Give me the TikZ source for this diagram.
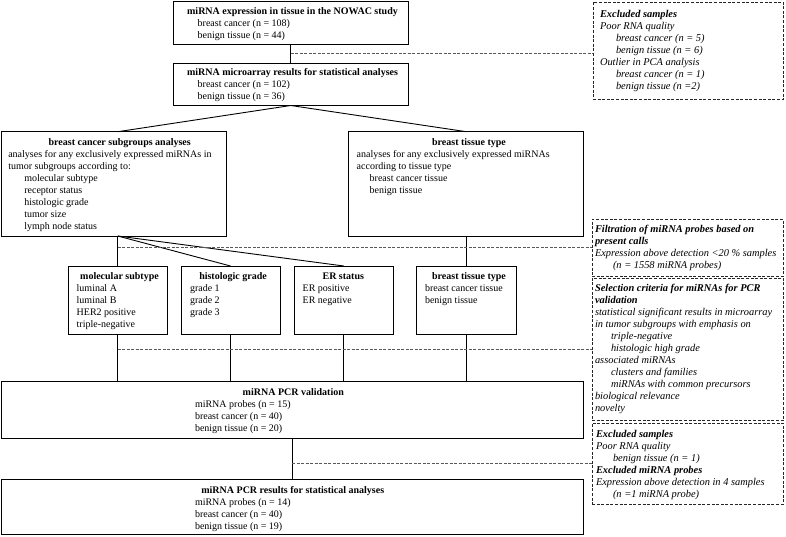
\documentclass[tikz,border=0pt]{standalone}
\usepackage{fontspec}
\setmainfont{Liberation Serif}
\usetikzlibrary{calc}
\newcommand{\lns}[1]{\begin{tabular}[t]{@{}l@{}}#1\end{tabular}}
\newcommand{\ii}{\hspace*{16pt}}
\newcommand{\bi}[1]{\textbf{\textit{#1}}}
\begin{document}
\begin{tikzpicture}[x=1pt,y=-1pt,
  box/.style={draw=black, line width=0.9pt, inner sep=0pt, outer sep=0pt, anchor=north west},
  dbox/.style={draw=black!85, line width=0.8pt, dash pattern=on 3pt off 1.6pt, inner sep=0pt, outer sep=0pt, anchor=north west},
  conn/.style={draw=black, line width=0.9pt},
  dconn/.style={draw=black!65, line width=0.7pt, dash pattern=on 3pt off 1.5pt},
  txt/.style={inner sep=0pt, outer sep=0pt, font=\fontsize{10}{12}\selectfont, anchor=base west},
  ttl/.style={inner sep=0pt, outer sep=0pt, font=\fontsize{10}{12}\selectfont\bfseries, anchor=base},
  itx/.style={inner sep=0pt, outer sep=0pt, font=\fontsize{10.4}{12}\selectfont\itshape, anchor=base west},
]
\useasboundingbox (0,0) rectangle (786,536);

% boxes
\node[box, minimum width=235.5pt, minimum height=42.8pt] (b1) at (173,1.5) {};
\node[box, minimum width=235.5pt, minimum height=42.5pt] (b2) at (173,63) {};
\node[box, minimum width=224.3pt, minimum height=104.3pt] (lb) at (1.7,131.7) {};
\node[box, minimum width=235.3pt, minimum height=104.3pt] (rb) at (348,131.7) {};
\node[box, minimum width=99pt, minimum height=68pt] (ms) at (68.3,266) {};
\node[box, minimum width=99pt, minimum height=68pt] (hg) at (181,266) {};
\node[box, minimum width=99pt, minimum height=68pt] (er) at (294.3,266) {};
\node[box, minimum width=99.3pt, minimum height=68pt] (bt) at (416.7,266) {};
\node[box, minimum width=582.3pt, minimum height=56.6pt] (pv) at (1,381.7) {};
\node[box, minimum width=582.3pt, minimum height=55.5pt] (pr) at (1,479.3) {};
\node[dbox, minimum width=190.3pt, minimum height=97.5pt] (e1) at (593,2) {};
\node[dbox, minimum width=191.3pt, minimum height=56.7pt] (fl) at (592,219.3) {};
\node[dbox, minimum width=191.3pt, minimum height=142.4pt] (sl) at (592,278.3) {};
\node[dbox, minimum width=191.3pt, minimum height=81pt] (e2) at (592,423) {};

% box texts
\node[ttl] (b1t) at (292.5,14.5) {miRNA expression in tissue in the NOWAC study};
\node[txt] (b1b) at (197.7,26.5) {\lns{breast cancer (n = 108)\\benign tissue (n = 44)}};
\node[ttl] (b2t) at (292.5,75.5) {miRNA microarray results for statistical analyses};
\node[txt] (b2b) at (197.7,87.5) {\lns{breast cancer (n = 102)\\benign tissue (n = 36)}};

\node[ttl] (lbt) at (119.7,145) {breast cancer subgroups analyses};
\node[txt] (lbb) at (8.3,157) {\lns{analyses for any exclusively expressed miRNAs in\\tumor subgroups according to:\\\ii molecular subtype\\\ii receptor status\\\ii histologic grade\\\ii tumor size\\\ii lymph node status}};
\node[ttl] (rbt) at (469,145) {breast tissue type};
\node[txt] (rbb) at (356.7,157) {\lns{analyses for any exclusively expressed miRNAs\\according to tissue type\\\hspace*{13pt}breast cancer tissue\\\hspace*{13pt}benign tissue}};

\node[ttl] (mst) at (119.5,279.5) {molecular subtype};
\node[txt] (msb) at (76.7,291.5) {\lns{luminal A\\luminal B\\HER2 positive\\triple-negative}};
\node[ttl] (hgt) at (233,279.5) {histologic grade};
\node[txt] (hgb) at (190,291.5) {\lns{grade 1\\grade 2\\grade 3}};
\node[ttl] (ert) at (343.3,279.5) {ER status};
\node[txt] (erb) at (302.7,291.5) {\lns{ER positive\\ER negative}};
\node[ttl] (btt) at (469,279.5) {breast tissue type};
\node[txt] (btb) at (425,291.5) {\lns{breast cancer tissue\\benign tissue}};

\node[ttl] (pvt) at (293.3,395.5) {miRNA PCR validation};
\node[txt] (pvb) at (195,407.5) {\lns{miRNA probes (n = 15)\\breast cancer (n = 40)\\benign tissue (n = 20)}};
\node[ttl] (prt) at (292.8,493.3) {miRNA PCR results for statistical analyses};
\node[txt] (prb) at (195,505.3) {\lns{miRNA probes (n = 14)\\breast cancer (n = 40)\\benign tissue (n = 19)}};

% side notes
\node[itx] (e1b) at (600,17.3) {\lns{\bi{Excluded samples}\\Poor RNA quality\\\ii breast cancer (n = 5)\\\ii benign tissue (n = 6)\\Outlier in PCA analysis\\\ii breast cancer (n = 1)\\\ii benign tissue (n =2)}};
\node[itx] (flb) at (595,232.3) {\lns{\bi{Filtration of miRNA probes based on}\\\bi{present calls}\\Expression above detection <20 \% samples\\\hspace*{18pt}(n = 1558 miRNA probes)}};
\node[itx] (slb) at (595,291.7) {\lns{\bi{Selection criteria for miRNAs for PCR}\\\bi{validation}\\statistical significant results in microarray\\in tumor subgroups with emphasis on\\\ii triple-negative\\\ii histologic high grade\\associated miRNAs\\\ii clusters and families\\\ii miRNAs with common precursors\\biological relevance\\novelty}};
\node[itx] (e2b) at (596,437.3) {\lns{\bi{Excluded samples}\\Poor RNA quality\\\hspace*{17pt}benign tissue (n = 1)\\\bi{Excluded miRNA probes}\\Expression above detection in 4 samples\\\hspace*{17pt}(n =1 miRNA probe)}};

% solid connectors
\draw[conn] (b1.south) -- (b1.south |- b2.north);
\draw[conn] (b2.south) -- (lb.north -| ms.north);
\draw[conn] (b2.south) -- (rb.north -| bt.north);
\draw[conn] (lb.south -| ms.north) -- (ms.north);
\draw[conn] (lb.south -| ms.north) -- (hg.north);
\draw[conn] (lb.south -| ms.north) -- (er.north);
\draw[conn] (rb.south -| bt.north) -- (bt.north);
\draw[conn] (ms.south) -- (ms.south |- pv.north);
\draw[conn] (hg.south) -- (hg.south |- pv.north);
\draw[conn] (er.south) -- (er.south |- pv.north);
\draw[conn] (bt.south) -- (bt.south |- pv.north);
\draw[conn] (pv.south) -- (pv.south |- pr.north);

% dashed connectors
\coordinate (d1) at ($(b1.south)!0.5!(b1.south |- b2.north)$);
\draw[dconn] (d1) -- (d1 -| e1.west);
\draw[dconn] (fl.west -| ms.north) -- (fl.west);
\draw[dconn] (sl.west -| ms.north) -- (sl.west);
\draw[dconn] (e2.west -| pv.south) -- (e2.west);
\end{tikzpicture}
\end{document}
